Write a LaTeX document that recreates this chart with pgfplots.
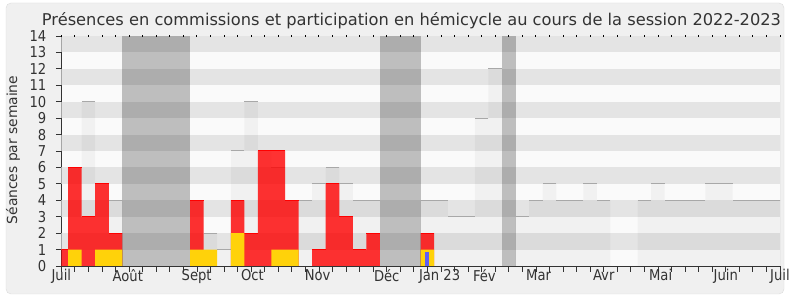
\documentclass[border=0pt]{standalone}
\usepackage{pgfplots}
\pgfplotsset{compat=1.18}
\usepackage{fontspec}
\setmainfont{DejaVu Sans}[FakeStretch=0.88]
\newfontfamily\titlefont{DejaVu Sans}
\definecolor{bandlight}{RGB}{250,250,250}
\definecolor{banddark}{RGB}{228,228,228}
\definecolor{framefill}{RGB}{240,240,240}
\definecolor{framedraw}{RGB}{220,220,220}
\definecolor{axiscol}{RGB}{51,51,51}
\definecolor{textcol}{RGB}{51,51,51}
\definecolor{presline}{RGB}{168,168,168}
\definecolor{seanceyellow}{RGB}{255,210,10}
\definecolor{questblue}{RGB}{95,95,245}
\begin{document}
\begin{tikzpicture}
\useasboundingbox (0,0) rectangle (790bp,300bp);
\fill[white] (0,0) rectangle (790bp,300bp);
\filldraw[fill=framefill, draw=framedraw, rounded corners=5bp] (6bp,6bp) rectangle (784bp,297bp);
\node[font=\titlefont\fontsize{16.3}{18}\selectfont, text=textcol] at (411.5bp,279bp) {Présences en commissions et participation en hémicycle au cours de la session 2022-2023};
\node[rotate=90, font=\titlefont\fontsize{13.9}{16}\selectfont, text=textcol] at (13bp,150bp) {Séances par semaine};
\begin{axis}[
  at={(61.3bp,34bp)}, anchor=south west, scale only axis,
  width=718.7bp, height=230bp,
  xmin=0, xmax=53, ymin=0, ymax=14,
  axis background/.style={fill=bandlight},
  axis x line*=bottom, axis y line*=left,
  axis line style={draw=axiscol, line width=1bp, -},
  tick style={draw=axiscol, line width=0.8bp},
  major tick length=5.5bp, tick align=outside,
  xtick={0,...,53}, xticklabels={},
  ytick={0,...,14},
  extra x ticks={0,4.9,9.98,14.1,18.9,24,27.9,31.2,35.2,40,44.2,49,53},
  extra x tick labels={Juil,Août,Sept,Oct,Nov,Déc,Jan 23,Fév,Mar,Avr,Mai,Juin,Juil},
  extra x tick style={major tick length=0pt},
  /pgf/number format/assume math mode=true,
  ticklabel style={font=\fontsize{15}{15}\selectfont, text=textcol},
  yticklabel style={xshift=-6bp},
  clip=true, clip marker paths=true,
]
% background bands
\addplot[fill=banddark, draw=none] coordinates {(0,1)(0,2)(53,2)(53,1)};
\addplot[fill=banddark, draw=none] coordinates {(0,3)(0,4)(53,4)(53,3)};
\addplot[fill=banddark, draw=none] coordinates {(0,5)(0,6)(53,6)(53,5)};
\addplot[fill=banddark, draw=none] coordinates {(0,7)(0,8)(53,8)(53,7)};
\addplot[fill=banddark, draw=none] coordinates {(0,9)(0,10)(53,10)(53,9)};
\addplot[fill=banddark, draw=none] coordinates {(0,11)(0,12)(53,12)(53,11)};
\addplot[fill=banddark, draw=none] coordinates {(0,13)(0,14)(53,14)(53,13)};
% hemicycle presence (grey bars)
\addplot[ybar, bar width=1, bar shift=0pt, fill=black, fill opacity=0.035, draw=none] coordinates {
(0,1)(1,6)(2,10)(3,5)(4,4)(10,4)(11,2)(12,1)(13,7)(14,10)(15,7)(16,6)(17,4)(18,4)(19,5)(20,6)(21,5)(22,4)(23,4)(27,4)(28,4)(29,3)(30,3)(31,9)(32,12)(34,3)(35,4)(36,5)(37,4)(38,4)(39,5)(40,4)(43,4)(44,5)(45,4)(46,4)(47,4)(48,5)(49,5)(50,4)(51,4)(52,4)(53,4)};
\addplot[only marks, mark=-, mark size=6.78bp, mark options={draw=presline, line width=1bp}] coordinates {
(0,1)(1,6)(2,10)(3,5)(4,4)(10,4)(11,2)(12,1)(13,7)(14,10)(15,7)(16,6)(17,4)(18,4)(19,5)(20,6)(21,5)(22,4)(23,4)(27,4)(28,4)(29,3)(30,3)(31,9)(32,12)(34,3)(35,4)(36,5)(37,4)(38,4)(39,5)(40,4)(43,4)(44,5)(45,4)(46,4)(47,4)(48,5)(49,5)(50,4)(51,4)(52,4)(53,4)};
% commission presence (red)
\addplot[ybar, bar width=1, bar shift=0pt, fill=red, fill opacity=0.8, draw=none] coordinates {
(0,1)(1,6)(2,3)(3,5)(4,2)(10,4)(13,4)(14,2)(15,7)(16,7)(17,4)(19,1)(20,5)(21,3)(22,1)(23,2)(27,2)};
\addplot[only marks, mark=-, mark size=6.78bp, mark options={draw=red, line width=1bp}] coordinates {
(0,1)(1,6)(2,3)(3,5)(4,2)(10,4)(13,4)(14,2)(15,7)(16,7)(17,4)(19,1)(20,5)(21,3)(22,1)(23,2)(27,2)};
% interventions (yellow)
\addplot[ybar, bar width=1, bar shift=0pt, fill=seanceyellow, draw=none] coordinates {
(1,1)(3,1)(4,1)(10,1)(11,1)(13,2)(16,1)(17,1)(27,1)};
% questions (blue)
\addplot[ybar, bar width=0.3, bar shift=0pt, fill=questblue, draw=none] coordinates {(27,0.87)};
% vacances
\addplot[fill=black, fill opacity=0.24, draw=none] coordinates {(4.5,0)(4.5,14)(9.5,14)(9.5,0)};
\addplot[fill=black, fill opacity=0.24, draw=none] coordinates {(23.5,0)(23.5,14)(26.5,14)(26.5,0)};
\addplot[fill=black, fill opacity=0.24, draw=none] coordinates {(32.5,0)(32.5,14)(33.5,14)(33.5,0)};
\draw[draw=black!22, line width=1bp] (rel axis cs:1,0) -- (rel axis cs:1,1);
\end{axis}
\begin{axis}[
  at={(61.3bp,34bp)}, anchor=south west, scale only axis,
  width=718.7bp, height=230bp,
  xmin=0, xmax=53, ymin=0, ymax=14,
  axis line style={draw=none},
  xtick={0,...,53}, xticklabels={}, ytick=\empty,
  xtick pos=right, tick align=center, major tick length=1.5bp,
  tick style={draw=black, line width=0.9bp},
]
\end{axis}
\end{tikzpicture}
\end{document}
